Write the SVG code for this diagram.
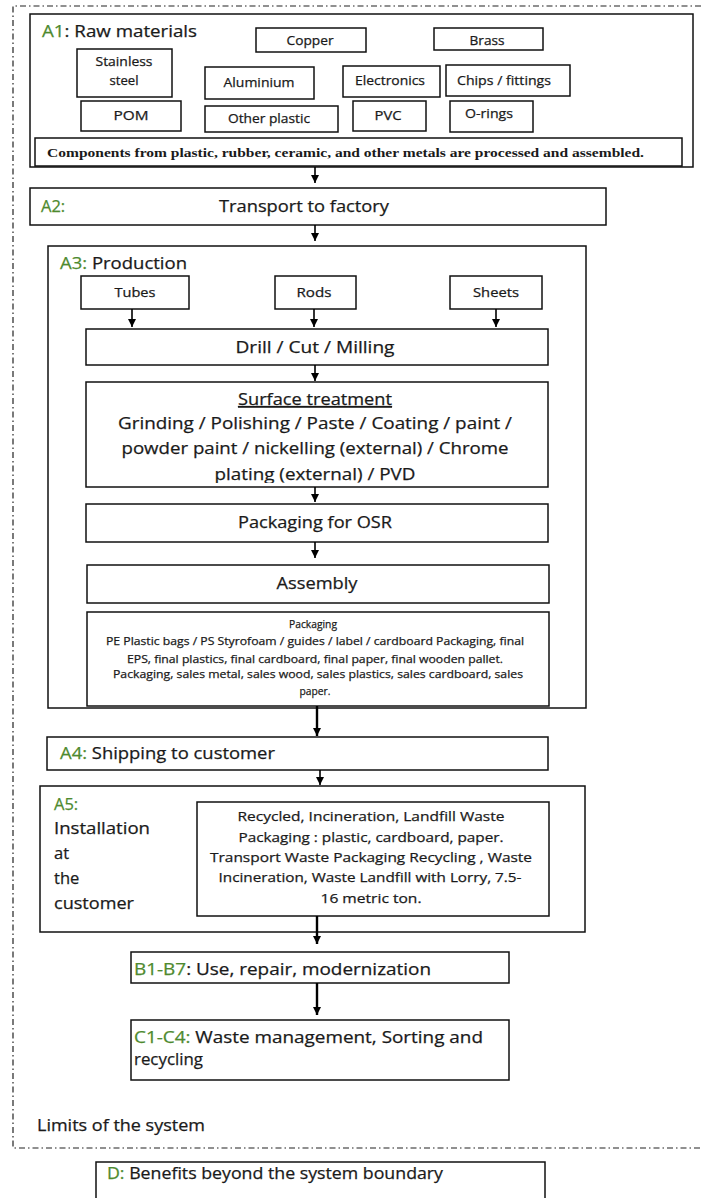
<svg xmlns="http://www.w3.org/2000/svg" width="701" height="1198" viewBox="0 0 701 1198">
<style>
.box{fill:#fff;stroke:#111;stroke-width:1.5}
.t{font-family:"Open Sans","Noto Sans",sans-serif;fill:#1a1a1a;stroke:#1a1a1a;stroke-width:0.25}
.c{text-anchor:middle}
.g{fill:#4e8a2e;stroke:#4e8a2e}
.s{font-size:12.5px}
.m{font-size:16.5px}
.l{font-size:17px}
.p{font-size:11px}
.w{font-size:13.5px}
.conn line{stroke:#000;stroke-width:1.6;marker-end:url(#ah)}
</style>
<defs>
<marker id="ah" viewBox="0 0 8 8" refX="8" refY="4" markerWidth="8" markerHeight="8" markerUnits="userSpaceOnUse" orient="auto">
<path d="M0,0 L8,4 L0,8 Z" fill="#000"/>
</marker>
<clipPath id="stclip"><rect x="86" y="382" width="462" height="101"/></clipPath>
</defs>

<path id="boundary" d="M701,6 H13 V1148 H701" fill="none" stroke="#222" stroke-width="1.2" stroke-dasharray="6,3,1.5,3"/>

<g id="A1">
<rect class="box" x="30" y="14" width="663" height="153"/>
<text class="t m" x="42" y="37" textLength="155" lengthAdjust="spacingAndGlyphs"><tspan class="g">A1</tspan>: Raw materials</text>
</g>
<g id="copper"><rect class="box" x="256" y="28" width="110" height="24"/><text class="t c s" x="310" y="45" textLength="47" lengthAdjust="spacingAndGlyphs">Copper</text></g>
<g id="brass"><rect class="box" x="434" y="28" width="109" height="22"/><text class="t c s" x="487" y="45" textLength="35" lengthAdjust="spacingAndGlyphs">Brass</text></g>
<g id="stainless"><rect class="box" x="77" y="49" width="95" height="48"/><text class="t c s" x="124" y="66" textLength="57" lengthAdjust="spacingAndGlyphs">Stainless</text><text class="t c s" x="124" y="85" textLength="29" lengthAdjust="spacingAndGlyphs">steel</text></g>
<g id="aluminium"><rect class="box" x="205" y="67" width="109" height="32"/><text class="t c s" x="259" y="87" textLength="71" lengthAdjust="spacingAndGlyphs">Aluminium</text></g>
<g id="electronics"><rect class="box" x="343" y="66" width="97" height="31"/><text class="t c s" x="390" y="85" textLength="70" lengthAdjust="spacingAndGlyphs">Electronics</text></g>
<g id="chips"><rect class="box" x="446" y="65" width="124" height="31"/><text class="t c s" x="504" y="85" textLength="94" lengthAdjust="spacingAndGlyphs">Chips / fittings</text></g>
<g id="pom"><rect class="box" x="81" y="101" width="100" height="30"/><text class="t c s" x="131" y="120" textLength="35" lengthAdjust="spacingAndGlyphs">POM</text></g>
<g id="otherplastic"><rect class="box" x="205" y="106" width="133" height="26"/><text class="t c s" x="269" y="123" textLength="82" lengthAdjust="spacingAndGlyphs">Other plastic</text></g>
<g id="pvc"><rect class="box" x="353" y="101" width="73" height="30"/><text class="t c s" x="388" y="120" textLength="27" lengthAdjust="spacingAndGlyphs">PVC</text></g>
<g id="orings"><rect class="box" x="450" y="101" width="83" height="31"/><text class="t c s" x="489" y="118" textLength="48" lengthAdjust="spacingAndGlyphs">O-rings</text></g>
<g id="components"><rect class="box" x="35" y="138" width="647" height="28"/><text x="47" y="157" font-family="'Liberation Serif',serif" font-weight="bold" font-size="12.5" fill="#1a1a1a" textLength="597" lengthAdjust="spacingAndGlyphs">Components from plastic, rubber, ceramic, and other metals are processed and assembled.</text></g>

<g id="A2">
<rect class="box" x="30" y="188" width="576" height="37"/>
<text class="t m g" x="41" y="212">A2:</text>
<text class="t c m" x="304" y="212" textLength="170" lengthAdjust="spacingAndGlyphs">Transport to factory</text>
</g>

<g id="A3">
<rect class="box" x="48" y="246" width="538" height="462"/>
<text class="t m" x="60" y="269" textLength="127" lengthAdjust="spacingAndGlyphs"><tspan class="g">A3:</tspan> Production</text>
</g>
<g id="tubes"><rect class="box" x="81" y="276" width="108" height="33"/><text class="t c s" x="135" y="297" textLength="41" lengthAdjust="spacingAndGlyphs">Tubes</text></g>
<g id="rods"><rect class="box" x="275" y="276" width="81" height="33"/><text class="t c s" x="314" y="297" textLength="35" lengthAdjust="spacingAndGlyphs">Rods</text></g>
<g id="sheets"><rect class="box" x="450" y="276" width="92" height="33"/><text class="t c s" x="496" y="297" textLength="46" lengthAdjust="spacingAndGlyphs">Sheets</text></g>
<g id="drill"><rect class="box" x="86" y="329" width="462" height="36"/><text class="t c l" x="315" y="353" textLength="159" lengthAdjust="spacingAndGlyphs">Drill / Cut / Milling</text></g>
<g id="surface">
<rect class="box" x="86" y="382" width="462" height="105"/>
<text class="t c l" x="315" y="405" text-decoration="underline" textLength="154" lengthAdjust="spacingAndGlyphs">Surface treatment</text>
<text class="t c l" x="315" y="429" textLength="394" lengthAdjust="spacingAndGlyphs">Grinding / Polishing / Paste / Coating / paint /</text>
<text class="t c l" x="315" y="454" textLength="387" lengthAdjust="spacingAndGlyphs">powder paint / nickelling (external) / Chrome</text>
<text class="t c l" x="315" y="480" clip-path="url(#stclip)" textLength="201" lengthAdjust="spacingAndGlyphs">plating (external) / PVD</text>
</g>
<g id="packosr"><rect class="box" x="86" y="504" width="462" height="38"/><text class="t c l" x="315" y="528" textLength="154" lengthAdjust="spacingAndGlyphs">Packaging for OSR</text></g>
<g id="assembly"><rect class="box" x="87" y="565" width="462" height="38"/><text class="t c l" x="317" y="589" textLength="81" lengthAdjust="spacingAndGlyphs">Assembly</text></g>
<g id="packaging">
<rect class="box" x="87" y="612" width="462" height="94"/>
<text class="t c p" x="313" y="628" textLength="48" lengthAdjust="spacingAndGlyphs">Packaging</text>
<text class="t c p" x="315" y="645" textLength="418" lengthAdjust="spacingAndGlyphs">PE Plastic bags / PS Styrofoam / guides / label / cardboard Packaging, final</text>
<text class="t c p" x="315" y="663" textLength="376" lengthAdjust="spacingAndGlyphs">EPS, final plastics, final cardboard, final paper, final wooden pallet.</text>
<text class="t c p" x="318" y="678" textLength="410" lengthAdjust="spacingAndGlyphs">Packaging, sales metal, sales wood, sales plastics, sales cardboard, sales</text>
<text class="t c p" x="315" y="695" textLength="31" lengthAdjust="spacingAndGlyphs">paper.</text>
</g>

<g id="A4">
<rect class="box" x="47" y="737" width="501" height="33"/>
<text class="t m" x="60" y="759" textLength="215" lengthAdjust="spacingAndGlyphs"><tspan class="g">A4:</tspan> Shipping to customer</text>
</g>

<g id="A5">
<rect class="box" x="40" y="786" width="545" height="146"/>
<text class="t m g" x="54" y="810">A5:</text>
<text class="t m" x="54" y="834" textLength="96" lengthAdjust="spacingAndGlyphs">Installation</text>
<text class="t m" x="54" y="859">at</text>
<text class="t m" x="54" y="884">the</text>
<text class="t m" x="54" y="909" textLength="80" lengthAdjust="spacingAndGlyphs">customer</text>
</g>
<g id="A5waste">
<rect class="box" x="197" y="802" width="352" height="114"/>
<text class="t c w" x="371" y="821" textLength="267" lengthAdjust="spacingAndGlyphs">Recycled, Incineration, Landfill Waste</text>
<text class="t c w" x="371" y="842" textLength="265" lengthAdjust="spacingAndGlyphs">Packaging : plastic, cardboard, paper.</text>
<text class="t c w" x="371" y="862" textLength="322" lengthAdjust="spacingAndGlyphs">Transport Waste Packaging Recycling , Waste</text>
<text class="t c w" x="370" y="882" textLength="303" lengthAdjust="spacingAndGlyphs">Incineration, Waste Landfill with Lorry, 7.5-</text>
<text class="t c w" x="371" y="903" textLength="101" lengthAdjust="spacingAndGlyphs">16 metric ton.</text>
</g>

<g id="B">
<rect class="box" x="131" y="952" width="378" height="31"/>
<text class="t m" x="134" y="975" textLength="297" lengthAdjust="spacingAndGlyphs"><tspan class="g">B1-B7</tspan>: Use, repair, modernization</text>
</g>
<g id="C">
<rect class="box" x="131" y="1020" width="378" height="60"/>
<text class="t m" x="134" y="1043" textLength="349" lengthAdjust="spacingAndGlyphs"><tspan class="g">C1-C4:</tspan> Waste management, Sorting and</text>
<text class="t m" x="134" y="1065" textLength="69" lengthAdjust="spacingAndGlyphs">recycling</text>
</g>

<text id="limits" class="t" font-size="15.5" x="37" y="1131" textLength="168" lengthAdjust="spacingAndGlyphs">Limits of the system</text>

<g id="D">
<rect class="box" x="96" y="1162" width="449" height="50"/>
<text class="t m" x="107" y="1179" textLength="336" lengthAdjust="spacingAndGlyphs"><tspan class="g">D:</tspan> Benefits beyond the system boundary</text>
</g>

<g id="connectors" class="conn">
<line x1="315" y1="167" x2="315" y2="183"/>
<line x1="315" y1="225" x2="315" y2="241"/>
<line x1="132" y1="309" x2="132" y2="327"/>
<line x1="314" y1="309" x2="314" y2="327"/>
<line x1="496" y1="309" x2="496" y2="327"/>
<line x1="315" y1="365" x2="315" y2="381"/>
<line x1="315" y1="487" x2="315" y2="502"/>
<line x1="315" y1="542" x2="315" y2="558"/>
<line x1="317" y1="706" x2="317" y2="736" style="stroke-width:2.4"/>
<line x1="320" y1="770" x2="320" y2="785"/>
<line x1="317" y1="916" x2="317" y2="944" style="stroke-width:2.4"/>
<line x1="317" y1="983" x2="317" y2="1015" style="stroke-width:2.4"/>
</g>
</svg>
